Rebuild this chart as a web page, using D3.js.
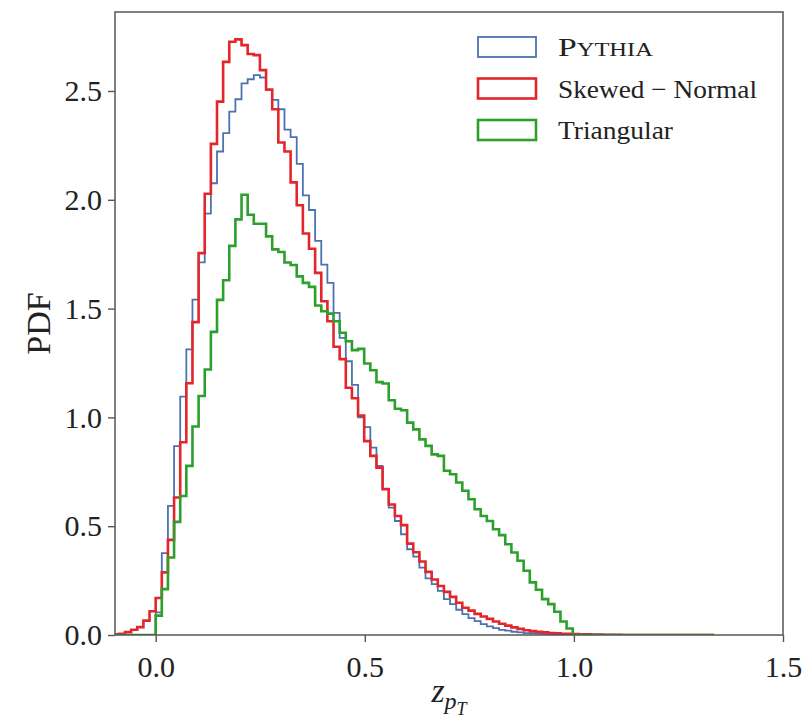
<!DOCTYPE html>
<html lang="en">
<head>
    <meta charset="utf-8">
    <title>z_pT PDF</title>
    <script src="https://d3js.org/d3.v7.min.js"></script>
    <style>
        body { margin: 0; background: #fff; }
        text { font-family: "Liberation Serif", "DejaVu Serif", serif; fill: #222; }
    </style>
</head>
<body>
<script>
    // histogram binning (shared by all three series)
    var binStart = -0.1027,
        binWidth = 0.014665;

    // bin heights (98 bins)
    var pythia = [
        0, 0, 0, 0, 0, 0, 0,
        0.104, 0.376, 0.593, 0.868, 1.095, 1.313, 1.541, 1.712, 1.936, 2.076,
        2.222, 2.306, 2.405, 2.462, 2.535, 2.554, 2.573, 2.562, 2.505, 2.459,
        2.416, 2.322, 2.288, 2.165, 2.020, 1.953, 1.811, 1.702, 1.618, 1.480,
        1.365, 1.258, 1.149, 1.000, 0.955, 0.861, 0.777, 0.672, 0.585, 0.524,
        0.463, 0.394, 0.360, 0.310, 0.260, 0.234, 0.203, 0.165, 0.142, 0.116,
        0.096, 0.078, 0.064, 0.050, 0.040, 0.032, 0.024, 0.020, 0.015, 0.012,
        0.009, 0.008, 0.006, 0.005, 0.004, 0.003, 0.002, 0.002, 0.001, 0.001,
        0.001, 0.001, 0.001, 0, 0, 0, 0, 0, 0, 0,
        0, 0, 0, 0, 0, 0, 0, 0, 0, 0, 0
    ];

    var skewed = [
        0.003, 0.006, 0.013, 0.024, 0.036, 0.066, 0.109,
        0.170, 0.288, 0.437, 0.632, 0.886, 1.157, 1.438, 1.755, 2.028, 2.257,
        2.451, 2.634, 2.726, 2.737, 2.711, 2.670, 2.665, 2.596, 2.507, 2.416,
        2.263, 2.222, 2.080, 1.975, 1.845, 1.775, 1.664, 1.534, 1.442, 1.325,
        1.268, 1.136, 1.088, 1.008, 0.891, 0.823, 0.769, 0.670, 0.600, 0.547,
        0.505, 0.420, 0.380, 0.338, 0.290, 0.255, 0.225, 0.198, 0.175, 0.148,
        0.125, 0.112, 0.097, 0.085, 0.074, 0.062, 0.052, 0.043, 0.035, 0.028,
        0.022, 0.018, 0.015, 0.012, 0.009, 0.008, 0.006, 0.005, 0.004, 0.003,
        0.003, 0.002, 0.002, 0.001, 0.001, 0.001, 0, 0, 0, 0,
        0, 0, 0, 0, 0, 0, 0, 0, 0, 0, 0
    ];

    var triangular = [
        0, 0, 0, 0, 0, 0, 0,
        0.089, 0.211, 0.356, 0.520, 0.639, 0.777, 0.958, 1.098, 1.220, 1.393,
        1.540, 1.630, 1.788, 1.910, 2.023, 1.931, 1.890, 1.890, 1.832, 1.772,
        1.760, 1.712, 1.700, 1.648, 1.618, 1.600, 1.514, 1.488, 1.477, 1.442,
        1.389, 1.350, 1.309, 1.315, 1.248, 1.217, 1.162, 1.156, 1.079, 1.040,
        1.033, 0.976, 0.945, 0.899, 0.869, 0.830, 0.823, 0.755, 0.739, 0.701,
        0.663, 0.624, 0.578, 0.547, 0.524, 0.486, 0.459, 0.417, 0.379, 0.341,
        0.295, 0.242, 0.208, 0.165, 0.142, 0.107, 0.062, 0.030, 0, 0,
        0, 0, 0, 0, 0, 0, 0, 0, 0, 0,
        0, 0, 0, 0, 0, 0, 0, 0, 0, 0, 0
    ];

    var seriesNames = ["Pythia", "Skewed \u2212 Normal", "Triangular"];
    var xTicks = [0.0, 0.5, 1.0, 1.5];
    var yTicks = [0.0, 0.5, 1.0, 1.5, 2.0, 2.5];

    var width = 806, height = 722;
    var margin = {left: 115, right: 23, top: 12, bottom: 87};

    var svg = d3.select("body").append("svg")
        .attr("width", width)
        .attr("height", height);

    var x = d3.scaleLinear()
        .domain([-0.0973, 1.5])
        .range([margin.left, width - margin.right]);
    var y = d3.scaleLinear()
        .domain([0, 2.863])
        .range([height - margin.bottom, margin.top]);

    var series = [
        {name: seriesNames[0], values: pythia, color: "#4c72b0", lw: 1.8, textW: 95},
        {name: seriesNames[1], values: skewed, color: "#e3262b", lw: 2.6, textW: 199},
        {name: seriesNames[2], values: triangular, color: "#2ca02c", lw: 2.6, textW: 115}
    ];

    // step outline like matplotlib histtype='step'
    var line = d3.line()
        .x(function(d) { return x(d[0]); })
        .y(function(d) { return y(d[1]); })
        .curve(d3.curveStepAfter);

    function stepPoints(values) {
        var pts = [[binStart, 0]];
        values.forEach(function(v, i) {
            pts.push([binStart + i * binWidth, v]);
        });
        pts.push([binStart + values.length * binWidth, 0]);
        return pts;
    }

    svg.append("defs").append("clipPath").attr("id", "clip")
        .append("rect")
        .attr("x", margin.left).attr("y", margin.top)
        .attr("width", width - margin.left - margin.right)
        .attr("height", height - margin.top - margin.bottom);

    svg.append("g").attr("clip-path", "url(#clip)")
        .selectAll("path")
        .data(series)
        .enter()
        .append("path")
        .attr("d", function(d) { return line(stepPoints(d.values)); })
        .attr("fill", "none")
        .attr("stroke", function(d) { return d.color; })
        .attr("stroke-width", function(d) { return d.lw; })
        .attr("stroke-linejoin", "miter");

    // axes
    var xAxis = svg.append("g")
        .attr("transform", "translate(0," + (height - margin.bottom) + ")")
        .call(d3.axisBottom(x).tickValues(xTicks).tickFormat(d3.format(".1f")).tickSize(7).tickPadding(8));
    var yAxis = svg.append("g")
        .attr("transform", "translate(" + margin.left + ",0)")
        .call(d3.axisLeft(y).tickValues(yTicks).tickFormat(d3.format(".1f")).tickSize(7).tickPadding(6));

    [xAxis, yAxis].forEach(function(g) {
        g.select(".domain").remove();
        g.selectAll(".tick line").attr("stroke", "#555").attr("stroke-width", 1.4);
        g.selectAll(".tick text")
            .attr("fill", "#222")
            .style("font-family", "'Liberation Serif', serif")
            .style("font-size", "30px");
    });
    xAxis.selectAll(".tick text").attr("dy", "0.9em");

    // frame
    svg.append("rect")
        .attr("x", margin.left).attr("y", margin.top)
        .attr("width", width - margin.left - margin.right)
        .attr("height", height - margin.top - margin.bottom)
        .attr("fill", "none")
        .attr("stroke", "#555")
        .attr("stroke-width", 1.5);

    // axis labels
    svg.append("text")
        .attr("transform", "translate(50," + ((margin.top + height - margin.bottom) / 2) + ") rotate(-90)")
        .attr("text-anchor", "middle")
        .style("font-size", "34px")
        .text("PDF");

    var xl = svg.append("text")
        .attr("x", (margin.left + width - margin.right) / 2)
        .attr("y", 702)
        .attr("text-anchor", "middle")
        .style("font-size", "34px");
    xl.append("tspan").style("font-style", "italic").text("z");
    xl.append("tspan").attr("dy", 7).style("font-style", "italic").style("font-size", "24px").text("p");
    xl.append("tspan").attr("dy", 6).style("font-style", "italic").style("font-size", "18px").text("T");

    // legend
    var legend = svg.append("g").attr("transform", "translate(478,37)");
    var rows = legend.selectAll("g")
        .data(series)
        .enter()
        .append("g")
        .attr("transform", function(d, i) { return "translate(0," + (i * 41.5) + ")"; });
    rows.append("rect")
        .attr("width", 58).attr("height", 20)
        .attr("fill", "none")
        .attr("stroke", function(d) { return d.color; })
        .attr("stroke-width", function(d) { return d.lw; });
    rows.append("text")
        .attr("x", 80).attr("y", 19)
        .attr("textLength", function(d) { return d.textW; })
        .attr("lengthAdjust", "spacingAndGlyphs")
        .style("font-size", "26px")
        .each(function(d, i) {
            var t = d3.select(this);
            if (i === 0) {
                // small caps
                t.append("tspan").text(d.name[0]);
                t.append("tspan").style("font-size", "19px").text(d.name.slice(1).toUpperCase());
            } else {
                t.text(d.name);
            }
        });
</script>
</body>
</html>
